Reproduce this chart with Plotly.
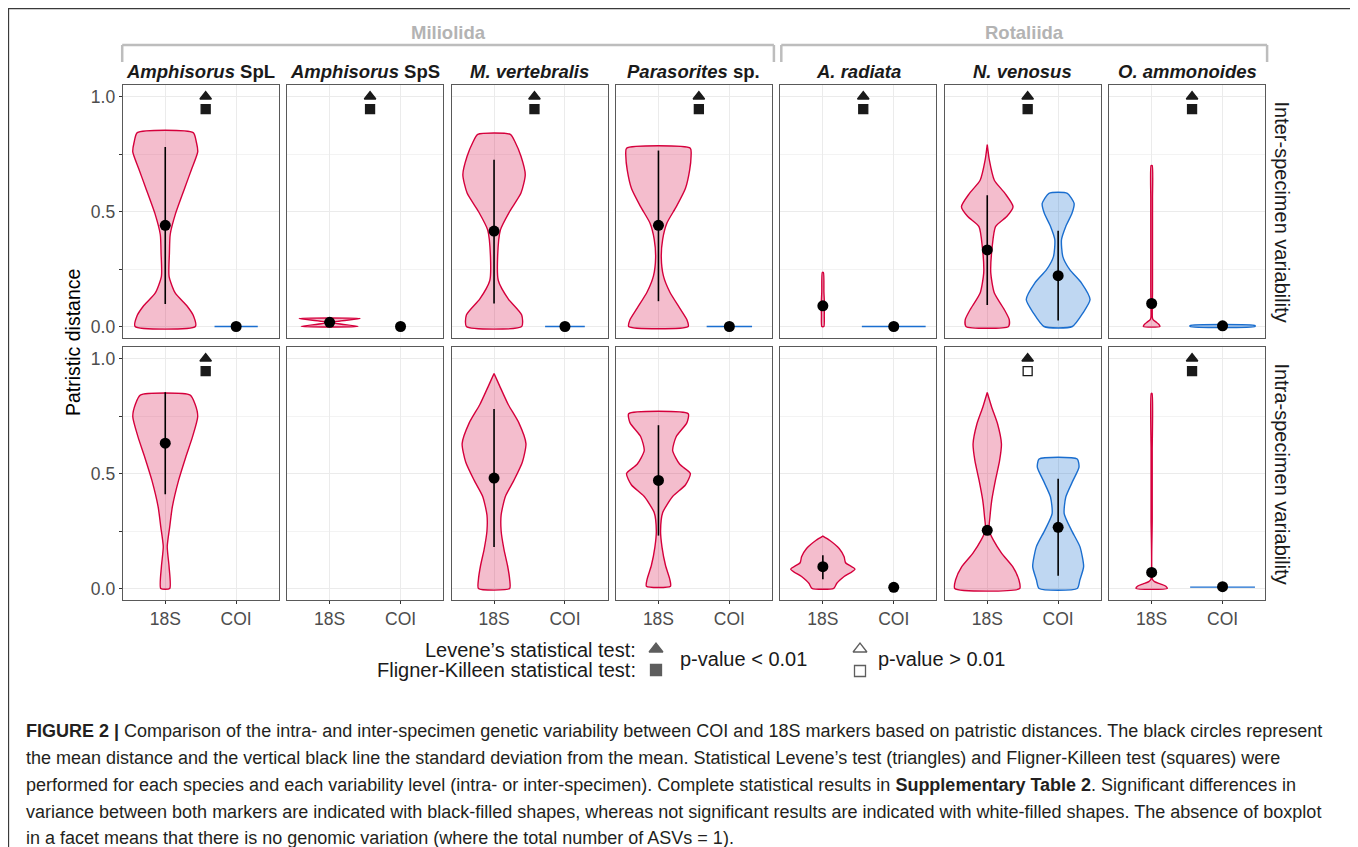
import plotly.graph_objects as go

PAGE_W, PAGE_H = 1358, 847
OFF = 8  # browser body margin
FIG_W, FIG_H = PAGE_W - OFF, PAGE_H - OFF

# ---------------- data ----------------
SPECIES = ["<i>Amphisorus</i> SpL", "<i>Amphisorus</i> SpS", "<i>M. vertebralis</i>",
           "<i>Parasorites</i> sp.", "<i>A. radiata</i>", "<i>N. venosus</i>", "<i>O. ammonoides</i>"]
ORDERS = ["Miliolida", "Rotaliida"]
ORDER_FIRST = [0, 4]
ORDER_LAST = [3, 6]
MARKERS = ["18S", "COI"]
LEVELS = ["Inter-specimen variability", "Intra-specimen variability"]
Y_TICKS = [0.0, 0.5, 1.0]
Y_TICKTEXT = ["0.0", "0.5", "1.0"]
Y_MINOR = [0.25, 0.75]

# violin profiles: value levels and half-widths (category units)
# --- inter-specimen, 18S
inter18_c0_y = [0.0, 0.045, 0.088, 0.146, 0.218, 0.319, 0.40, 0.492, 0.607, 0.687, 0.759, 0.80, 0.843]
inter18_c0_w = [0.425, 0.40, 0.31, 0.14, 0.054, 0.059, 0.07, 0.146, 0.28, 0.375, 0.458, 0.44, 0.394]
inter18_c1_y = [0.0, 0.0175, 0.035]
inter18_c1_w = [0.40, 0.02, 0.43]
inter18_c2_y = [0.0, 0.05, 0.12, 0.2, 0.3, 0.42, 0.5, 0.58, 0.66, 0.74, 0.80, 0.835]
inter18_c2_w = [0.39, 0.39, 0.2, 0.06, 0.05, 0.09, 0.22, 0.38, 0.44, 0.38, 0.3, 0.23]
inter18_c3_y = [0.0, 0.03, 0.08, 0.15, 0.22, 0.3, 0.38, 0.45, 0.52, 0.6, 0.68, 0.74, 0.775]
inter18_c3_w = [0.42, 0.40, 0.3, 0.16, 0.07, 0.04, 0.06, 0.12, 0.25, 0.38, 0.44, 0.46, 0.45]
inter18_c4_y = [0.0, 0.05, 0.1, 0.15, 0.235]
inter18_c4_w = [0.015, 0.02, 0.022, 0.015, 0.008]
inter18_c5_y = [0.0, 0.03, 0.074, 0.146, 0.232, 0.348, 0.434, 0.478, 0.521, 0.579, 0.636, 0.723, 0.791]
inter18_c5_w = [0.30, 0.31, 0.24, 0.10, 0.05, 0.07, 0.117, 0.275, 0.364, 0.25, 0.10, 0.03, 0.0]
inter18_c6_y = [0.0, 0.01, 0.02, 0.03, 0.04, 0.15, 0.25, 0.48, 0.56, 0.70]
inter18_c6_w = [0.117, 0.10, 0.06, 0.02, 0.01, 0.012, 0.012, 0.012, 0.012, 0.008]
# --- inter-specimen, COI
interCOI_c0_y = [0.0, 0.0]
interCOI_c0_w = [0.305, 0.305]
interCOI_c2_y = [0.0, 0.0]
interCOI_c2_w = [0.28, 0.28]
interCOI_c3_y = [0.0, 0.0]
interCOI_c3_w = [0.32, 0.32]
interCOI_c4_y = [0.0, 0.0]
interCOI_c4_w = [0.45, 0.45]
interCOI_c5_y = [0.0, 0.059, 0.117, 0.189, 0.247, 0.304, 0.377, 0.434, 0.492, 0.535, 0.579]
interCOI_c5_w = [0.20, 0.35, 0.45, 0.33, 0.164, 0.066, 0.047, 0.106, 0.195, 0.225, 0.13]
interCOI_c6_y = [0.0, 0.004]
interCOI_c6_w = [0.458, 0.458]
# --- intra-specimen, 18S
intra18_c0_y = [0.0, 0.095, 0.182, 0.268, 0.355, 0.47, 0.571, 0.658, 0.748, 0.802, 0.841]
intra18_c0_w = [0.063, 0.054, 0.028, 0.063, 0.10, 0.188, 0.289, 0.383, 0.458, 0.42, 0.352]
intra18_c2_y = [0.0, 0.04, 0.1, 0.17, 0.25, 0.32, 0.4, 0.47, 0.55, 0.63, 0.72, 0.8, 0.88, 0.935]
intra18_c2_w = [0.22, 0.22, 0.19, 0.14, 0.10, 0.10, 0.16, 0.28, 0.40, 0.45, 0.35, 0.2, 0.08, 0.0]
intra18_c3_y = [0.01, 0.04, 0.1, 0.18, 0.25, 0.33, 0.4, 0.45, 0.5, 0.54, 0.6, 0.66, 0.72, 0.76]
intra18_c3_w = [0.17, 0.16, 0.10, 0.05, 0.03, 0.06, 0.2, 0.38, 0.45, 0.3, 0.2, 0.25, 0.4, 0.42]
intra18_c4_y = [0.001, 0.023, 0.052, 0.084, 0.112, 0.138, 0.174, 0.21, 0.228]
intra18_c4_w = [0.154, 0.197, 0.30, 0.453, 0.32, 0.30, 0.23, 0.095, 0.0]
intra18_c5_y = [0.0, 0.038, 0.095, 0.153, 0.21, 0.254, 0.311, 0.384, 0.47, 0.556, 0.628, 0.715, 0.787, 0.852]
intra18_c5_w = [0.458, 0.446, 0.359, 0.204, 0.087, 0.025, 0.038, 0.064, 0.115, 0.174, 0.20, 0.146, 0.064, 0.0]
intra18_c6_y = [0.0, 0.01, 0.02, 0.03, 0.04, 0.3, 0.6, 0.848]
intra18_c6_w = [0.22, 0.20, 0.12, 0.04, 0.01, 0.008, 0.008, 0.006]
# --- intra-specimen, COI
intraCOI_c5_y = [0.0, 0.038, 0.095, 0.182, 0.254, 0.326, 0.398, 0.47, 0.528, 0.563]
intraCOI_c5_w = [0.269, 0.307, 0.359, 0.307, 0.187, 0.085, 0.108, 0.21, 0.294, 0.269]
intraCOI_c6_y = [0.006, 0.006]
intraCOI_c6_w = [0.457, 0.457]

# means and standard deviation ranges (None = not shown)
inter18_mean = [0.44, 0.018, 0.415, 0.44, 0.09, 0.333, 0.10]
inter18_sd_lo = [0.098, None, 0.10, 0.11, None, 0.094, None]
inter18_sd_hi = [0.78, None, 0.725, 0.765, None, 0.571, None]
interCOI_mean = [0.0, 0.0, 0.0, 0.0, 0.0, 0.221, 0.003]
interCOI_sd_lo = [None, None, None, None, None, 0.026, None]
interCOI_sd_hi = [None, None, None, None, None, 0.416, None]
intra18_mean = [0.632, None, 0.48, 0.47, 0.095, 0.253, 0.07]
intra18_sd_lo = [0.41, None, 0.18, 0.23, 0.04, None, None]
intra18_sd_hi = [0.853, None, 0.78, 0.71, 0.145, None, None]
intraCOI_mean = [None, None, None, None, 0.005, 0.266, 0.008]
intraCOI_sd_lo = [None, None, None, None, None, 0.055, None]
intraCOI_sd_hi = [None, None, None, None, None, 0.477, None]

# statistical tests: "sig" (p<0.01), "ns" (p>0.01), None (not performed)
inter_levene = ["sig", "sig", "sig", "sig", "sig", "sig", "sig"]
inter_fligner = ["sig", "sig", "sig", "sig", "sig", "sig", "sig"]
intra_levene = ["sig", None, None, None, None, "sig", "sig"]
intra_fligner = ["sig", None, None, None, None, "ns", "sig"]
TEST_X = 1.57
LEVENE_Y = 1.0
FLIGNER_Y = 0.945

# ---------------- styling / layout ----------------
COL18 = "#D5003C"
FILL18 = "rgba(213,0,60,0.26)"
COLCOI = "#1A6ECF"
FILLCOI = "rgba(26,110,207,0.28)"
BORDER = "#595959"
GRID = "#EBEBEB"
GRID_MINOR = "#F3F3F3"
FONT = "Liberation Sans, Arial, sans-serif"
TICK_FONT = dict(family=FONT, size=17.5, color="#4D4D4D")

PANEL_LEFT0 = 122.7
PANEL_STEP = 164.4
PANEL_W = 156.0
ROW_TOP = [85.0, 347.0]
ROW_BOT = [338.0, 600.0]


def X(px):
    return (px - OFF) / FIG_W


def Y(py):
    return 1 - (py - OFF) / FIG_H


fig = go.Figure()
layout = {}


def axis_id(row, col):
    return row * 7 + col + 1


def ax_name(n):
    return "" if n == 1 else str(n)


for row in range(2):
    for col in range(7):
        n = axis_id(row, col)
        s = ax_name(n)
        left = PANEL_LEFT0 + col * PANEL_STEP
        xa = dict(domain=[X(left), X(left + PANEL_W)], range=[0.4, 2.6],
                  tickvals=[1, 2], ticktext=MARKERS, showgrid=True, gridcolor=GRID, gridwidth=1,
                  zeroline=False, showline=True, mirror=True, linecolor=BORDER, linewidth=1,
                  anchor="y" + s, fixedrange=True,
                  showticklabels=(row == 1), ticks="outside" if row == 1 else "",
                  ticklen=3, tickcolor="#333333", tickfont=TICK_FONT)
        ya = dict(domain=[Y(ROW_BOT[row]), Y(ROW_TOP[row])], range=[-0.05, 1.05],
                  tickvals=Y_TICKS, ticktext=Y_TICKTEXT, showgrid=True, gridcolor=GRID, gridwidth=1,
                  zeroline=False, showline=True, mirror=True, linecolor=BORDER, linewidth=1,
                  anchor="x" + s, fixedrange=True,
                  showticklabels=(col == 0), ticks="outside" if col == 0 else "",
                  ticklen=3, tickcolor="#333333", tickfont=TICK_FONT,
                  minor=dict(tickvals=Y_MINOR, showgrid=True, gridcolor=GRID_MINOR, gridwidth=0.7,
                             ticks="outside" if col == 0 else "", ticklen=3, tickcolor="#333333"))
        layout["xaxis" + s] = xa
        layout["yaxis" + s] = ya
        # empty trace so that every facet (also empty ones) is drawn
        fig.add_trace(go.Scatter(x=[None], y=[None], xaxis="x" + s, yaxis="y" + s,
                                 mode="markers", hoverinfo="skip", showlegend=False))

violins = [
    (0, 0, 0, inter18_c0_y, inter18_c0_w), (0, 1, 0, inter18_c1_y, inter18_c1_w),
    (0, 2, 0, inter18_c2_y, inter18_c2_w), (0, 3, 0, inter18_c3_y, inter18_c3_w),
    (0, 4, 0, inter18_c4_y, inter18_c4_w), (0, 5, 0, inter18_c5_y, inter18_c5_w),
    (0, 6, 0, inter18_c6_y, inter18_c6_w),
    (0, 0, 1, interCOI_c0_y, interCOI_c0_w), (0, 2, 1, interCOI_c2_y, interCOI_c2_w),
    (0, 3, 1, interCOI_c3_y, interCOI_c3_w), (0, 4, 1, interCOI_c4_y, interCOI_c4_w),
    (0, 5, 1, interCOI_c5_y, interCOI_c5_w), (0, 6, 1, interCOI_c6_y, interCOI_c6_w),
    (1, 0, 0, intra18_c0_y, intra18_c0_w), (1, 2, 0, intra18_c2_y, intra18_c2_w),
    (1, 3, 0, intra18_c3_y, intra18_c3_w), (1, 4, 0, intra18_c4_y, intra18_c4_w),
    (1, 5, 0, intra18_c5_y, intra18_c5_w), (1, 6, 0, intra18_c6_y, intra18_c6_w),
    (1, 5, 1, intraCOI_c5_y, intraCOI_c5_w), (1, 6, 1, intraCOI_c6_y, intraCOI_c6_w),
]

for row, col, m, ys, ws in violins:
    s = ax_name(axis_id(row, col))
    c = m + 1
    xs = [c + w for w in ws] + [c - w for w in reversed(ws)] + [c + ws[0]]
    yy = list(ys) + list(reversed(ys)) + [ys[0]]
    fig.add_trace(go.Scatter(
        x=xs, y=yy, xaxis="x" + s, yaxis="y" + s, mode="lines",
        line=dict(color=COL18 if m == 0 else COLCOI, width=1.4, shape="spline", smoothing=0.6),
        fill="toself", fillcolor=FILL18 if m == 0 else FILLCOI,
        hoverinfo="skip", showlegend=False))

summaries = [
    (0, 0, inter18_mean, inter18_sd_lo, inter18_sd_hi),
    (0, 1, interCOI_mean, interCOI_sd_lo, interCOI_sd_hi),
    (1, 0, intra18_mean, intra18_sd_lo, intra18_sd_hi),
    (1, 1, intraCOI_mean, intraCOI_sd_lo, intraCOI_sd_hi),
]
for row, m, means, los, his in summaries:
    for col in range(7):
        s = ax_name(axis_id(row, col))
        if los[col] is not None:
            fig.add_trace(go.Scatter(x=[m + 1, m + 1], y=[los[col], his[col]],
                                     xaxis="x" + s, yaxis="y" + s, mode="lines",
                                     line=dict(color="black", width=1.6),
                                     hoverinfo="skip", showlegend=False))
        if means[col] is not None:
            fig.add_trace(go.Scatter(x=[m + 1], y=[means[col]], xaxis="x" + s, yaxis="y" + s,
                                     mode="markers", marker=dict(color="black", size=11),
                                     hoverinfo="skip", showlegend=False, cliponaxis=False))

tests = [(0, inter_levene, inter_fligner), (1, intra_levene, intra_fligner)]
for row, lev, fli in tests:
    for col in range(7):
        s = ax_name(axis_id(row, col))
        if lev[col] is not None:
            fig.add_trace(go.Scatter(
                x=[TEST_X], y=[LEVENE_Y], xaxis="x" + s, yaxis="y" + s, mode="markers",
                marker=dict(symbol="triangle-up" if lev[col] == "sig" else "triangle-up-open",
                            size=10, color="#1A1A1A", line=dict(width=1.3, color="#1A1A1A")),
                hoverinfo="skip", showlegend=False, cliponaxis=False))
        if fli[col] is not None:
            fig.add_trace(go.Scatter(
                x=[TEST_X], y=[FLIGNER_Y], xaxis="x" + s, yaxis="y" + s, mode="markers",
                marker=dict(symbol="square" if fli[col] == "sig" else "square-open",
                            size=9, color="#1A1A1A", line=dict(width=1.3, color="#1A1A1A")),
                hoverinfo="skip", showlegend=False, cliponaxis=False))

# overlay axis in page pixels for the legend keys
layout["xaxis15"] = dict(domain=[0, 1], range=[OFF, PAGE_W], visible=False, fixedrange=True, anchor="y15")
layout["yaxis15"] = dict(domain=[0, 1], range=[PAGE_H, OFF], visible=False, fixedrange=True, anchor="x15")
LEG_KEYS_X = [656, 656, 860, 860]
LEG_KEYS_Y = [649, 670, 649, 671]
LEG_KEYS_SYM = ["triangle-up", "square", "triangle-up-open", "square-open"]
fig.add_trace(go.Scatter(x=LEG_KEYS_X, y=LEG_KEYS_Y, xaxis="x15", yaxis="y15", mode="markers",
                         marker=dict(symbol=LEG_KEYS_SYM, size=[12, 11, 12, 11], color="#1A1A1A",
                                     line=dict(width=1.3, color="#1A1A1A")),
                         hoverinfo="skip", showlegend=False))

annotations = []
shapes = []

# strip labels (species)
for col in range(7):
    left = PANEL_LEFT0 + col * PANEL_STEP
    annotations.append(dict(x=X(left + PANEL_W / 2), y=Y(71), xref="paper", yref="paper",
                            text="<b>%s</b>" % SPECIES[col], showarrow=False,
                            font=dict(family=FONT, size=18.5, color="#1A1A1A"),
                            xanchor="center", yanchor="middle"))
# row labels
for row in range(2):
    annotations.append(dict(x=X(1281), y=Y((ROW_TOP[row] + ROW_BOT[row]) / 2), xref="paper",
                            yref="paper", text=LEVELS[row], textangle=90, showarrow=False,
                            font=dict(family=FONT, size=20, color="#1A1A1A"),
                            xanchor="center", yanchor="middle"))
# y title
annotations.append(dict(x=X(73), y=Y(343), xref="paper", yref="paper", text="Patristic distance",
                        textangle=-90, showarrow=False, font=dict(family=FONT, size=19.5, color="black"),
                        xanchor="center", yanchor="middle"))
# order brackets
for k in range(2):
    l = PANEL_LEFT0 + ORDER_FIRST[k] * PANEL_STEP - 0.5 + (1.5 if k == 1 else 0)
    r = PANEL_LEFT0 + ORDER_LAST[k] * PANEL_STEP + PANEL_W + 2
    for (x0, y0, x1, y1) in [(l, 45, r, 45), (l, 45, l, 62), (r, 45, r, 62)]:
        shapes.append(dict(type="line", xref="paper", yref="paper", x0=X(x0), y0=Y(y0),
                           x1=X(x1), y1=Y(y1), line=dict(color="#BDBDBD", width=2.5)))
    annotations.append(dict(x=X((l + r) / 2), y=Y(33), xref="paper", yref="paper",
                            text="<b>%s</b>" % ORDERS[k], showarrow=False,
                            font=dict(family=FONT, size=18.5, color="#B3B3B3"),
                            xanchor="center", yanchor="middle"))
# legend texts
LEG_FONT = dict(family=FONT, size=20, color="#1A1A1A")
annotations += [
    dict(x=X(638), y=Y(650), text="Levene’s statistical test:", xanchor="right"),
    dict(x=X(638), y=Y(670), text="Fligner-Killeen statistical test:", xanchor="right"),
    dict(x=X(678), y=Y(659), text="p-value &lt; 0.01", xanchor="left"),
    dict(x=X(876), y=Y(659), text="p-value &gt; 0.01", xanchor="left"),
]
for a in annotations[-4:]:
    a.update(xref="paper", yref="paper", showarrow=False, font=LEG_FONT, yanchor="middle")

# caption
CAPTION = [
    "<b>FIGURE 2 |</b> Comparison of the intra- and inter-specimen genetic variability between COI and 18S markers based on patristic distances. The black circles represent",
    "the mean distance and the vertical black line the standard deviation from the mean. Statistical Levene’s test (triangles) and Fligner-Killeen test (squares) were",
    "performed for each species and each variability level (intra- or inter-specimen). Complete statistical results in <b>Supplementary Table 2</b>. Significant differences in",
    "variance between both markers are indicated with black-filled shapes, whereas not significant results are indicated with white-filled shapes. The absence of boxplot",
    "in a facet means that there is no genomic variation (where the total number of ASVs = 1).",
]
CAPTION_Y = [731, 758, 785, 812, 838]
for txt, cy in zip(CAPTION, CAPTION_Y):
    annotations.append(dict(x=X(24), y=Y(cy), xref="paper", yref="paper", text=txt, showarrow=False,
                            xanchor="left", yanchor="middle", align="left",
                            font=dict(family=FONT, size=18, color="#231F20")))

# outer frame
shapes.append(dict(type="rect", xref="paper", yref="paper", x0=X(8.5), y0=Y(8.5), x1=X(1355), y1=Y(900),
                   line=dict(color="#3A3A3A", width=1.3)))

fig.update_layout(width=FIG_W, height=FIG_H, margin=dict(l=0, r=0, t=0, b=0),
                  paper_bgcolor="white", plot_bgcolor="rgba(0,0,0,0)", showlegend=False,
                  annotations=annotations, shapes=shapes, **layout)

fig.write_html("out.html", config={"displayModeBar": False})
